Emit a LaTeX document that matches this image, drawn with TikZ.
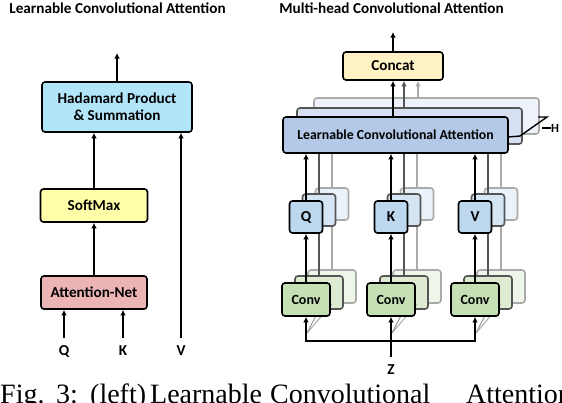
\documentclass[tikz,border=0pt]{standalone}
\usepackage{fontspec}
\setmainfont{Carlito}
\newfontfamily\capfont{Liberation Serif}
\usetikzlibrary{arrows.meta}
\definecolor{hadC}{HTML}{B3E5FA}
\definecolor{softC}{HTML}{FFFFAA}
\definecolor{attC}{HTML}{ECB4B4}
\definecolor{catC}{HTML}{FFF2C4}
\definecolor{lcaA}{HTML}{B4C8E8}
\definecolor{lcaB}{HTML}{D6E0F2}
\definecolor{lcaC}{HTML}{EEF2FA}
\definecolor{qA}{HTML}{BDD7EE}
\definecolor{qB}{HTML}{D6E5F4}
\definecolor{qC}{HTML}{EAF2FA}
\definecolor{cvA}{HTML}{C5E0B4}
\definecolor{cvB}{HTML}{DCEBD2}
\definecolor{cvC}{HTML}{EEF6E9}
\definecolor{grB}{HTML}{555555}
\definecolor{grC}{HTML}{AAAAAA}
\tikzset{
  txt/.style={font=\bfseries\fontsize{15.2}{18}\selectfont, align=center},
  boxA/.style={draw=black, line width=1.6pt, rounded corners=3pt, inner sep=0pt, txt},
  boxB/.style={draw=grB, line width=1.6pt, rounded corners=3pt, inner sep=0pt},
  boxC/.style={draw=grC, line width=1.6pt, rounded corners=3pt, inner sep=0pt},
  arr/.style={line width=2pt, -{Latex[length=5.5pt,width=5.5pt]}},
  arrB/.style={arr, color=grB},
  arrC/.style={arr, color=grC},
  lab/.style={txt, inner sep=0pt, minimum height=26pt},
  qbox/.style={minimum width=33pt, minimum height=32pt},
  cvbox/.style={minimum width=48pt, minimum height=33pt},
  lcabox/.style={minimum width=225pt, minimum height=36pt},
  capw/.style={font=\capfont\fontsize{28}{33}\selectfont, anchor=base west, inner sep=0pt},
}
\begin{document}
\begin{tikzpicture}[x=1pt,y=-1pt]
\useasboundingbox (0,0) rectangle (562,402);
% titles
\node[txt] (t1) at (117.5,8.5) {Learnable Convolutional Attention};
\node[txt] (t2) at (391.5,8.5) {Multi-head Convolutional Attention};
% ---------- left ----------
\node[boxA, fill=hadC, minimum width=150pt, minimum height=50pt] (had) at (117,107) {Hadamard Product\\[-1pt]\& Summation};
\node[boxA, fill=softC, minimum width=107pt, minimum height=33pt] (soft) at (94,205.5) {SoftMax};
\node[boxA, fill=attC, minimum width=106pt, minimum height=33pt] (attn) at (94,292.5) {Attention-Net};
\node[lab] (lq) at (64,351) {Q};
\node[lab] (lk) at (123,351) {K};
\node[lab] (lv) at (181,351) {V};
\coordinate (o1) at (117,53);
\draw[arr] (lq.north) -- (lq.north |- attn.south);
\draw[arr] (lk.north) -- (lk.north |- attn.south);
\draw[arr] (lv.north) -- (lv.north |- had.south);
\draw[arr] (attn.north) -- (attn.north |- soft.south);
\draw[arr] (soft.north) -- (soft.north |- had.south);
\draw[arr] (had.north) -- (o1);
% ---------- right ----------
\node[boxA, fill=catC, minimum width=100pt, minimum height=28pt] (cat) at (393,66) {Concat};
\coordinate (o2) at (393,32);
\draw[arr] (cat.north) -- (o2);
% Z
\node[lab] (lz) at (391,370) {Z};
\coordinate (zj) at (391,341);
% back layer (C)
\foreach \c/\n in {306/q,391/k,475/v}{
  \node[boxC, fill=cvC, cvbox] (cv\n C) at (\c+26,299.5-13) {};
  \node[boxC, fill=qC, qbox] (\n C) at (\c+26,217-13) {};
}
\node[boxC, fill=lcaC, lcabox] (lcaC) at (395.5+31,135-19) {};
\draw[arrC] ([xshift=25pt]cat.south |- lcaC.north) -- ([xshift=25pt]cat.south);
\foreach \c/\n in {306/q,391/k,475/v}{
  \draw[arrC] (cv\n C.north) -- (\n C.south);
  \draw[arrC] (\n C.north) -- (\n C.north |- lcaC.south);
}
% middle layer (B)
\foreach \c/\n in {306/q,391/k,475/v}{
  \node[boxB, fill=cvB, cvbox] (cv\n B) at (\c+13,299.5-7) {};
  \node[boxB, fill=qB, qbox] (\n B) at (\c+13,217-7) {};
}
\node[boxB, fill=lcaB, lcabox] (lcaB) at (395.5+14,135-9) {};
\draw[arrB] ([xshift=11pt]cat.south |- lcaB.north) -- ([xshift=11pt]cat.south);
\foreach \c/\n in {306/q,391/k,475/v}{
  \draw[arrB] (cv\n B.north) -- (\n B.south);
  \draw[arrB] (\n B.north) -- (\n B.north |- lcaB.south);
}
% diagonal feeds from Z to back convs
\foreach \c/\n in {306/q,391/k,475/v}{
  \coordinate (d\n) at (\c+1,333);
  \draw[line width=1pt, grC] (d\n) -- (cv\n C.south);
  \draw[line width=1pt, grB!60] (d\n) -- (cv\n B.south);
}
% front layer (A)
\node[boxA, fill=lcaA, lcabox, font=\bfseries\fontsize{13.8}{16}\selectfont] (lca) at (395.5,135) {Learnable Convolutional Attention};
\draw[arr] (cat.south |- lca.north) -- (cat.south);
\foreach \c/\n/\t in {306/q/Q,391/k/K,475/v/V}{
  \node[boxA, fill=cvA, cvbox, font=\bfseries\fontsize{14}{16}\selectfont] (cv\n) at (\c,299.5) {Conv};
  \node[boxA, fill=qA, qbox] (\n) at (\c,217) {\t};
  \draw[arr] (cv\n.north) -- (\n.south);
  \draw[arr] (\n.north) -- (\n.north |- lca.south);
  \draw[arr] (zj) -| (cv\n.south);
}
\draw[line width=2pt] (lz.north) -- (zj);
% H marker
\coordinate (h1) at (508,137);
\coordinate (h2) at (520,136);
\coordinate (h3) at (547,117);
\coordinate (h4) at (538,117);
\draw[line width=1.4pt] (h1) -- (h2) -- (h3) -- (h4);
\node[font=\bfseries\fontsize{12.5}{14}\selectfont, inner sep=0pt, anchor=west] (hl) at (551,128) {H};
\draw[line width=1.4pt] (hl.west) -- ++(-9,0);
% caption (cut off at the bottom)
\node[capw] (c1) at (0,403.5) {Fig.};
\node[capw] (c2) at (56,403.5) {3:};
\node[capw] (c3) at (90,403.5) {(left)};
\node[capw] (c4) at (150,403.5) {Learnable};
\node[capw] (c5) at (270,403.5) {Convolutional};
\node[capw] (c6) at (466,403.5) {Attention};
\end{tikzpicture}
\end{document}
